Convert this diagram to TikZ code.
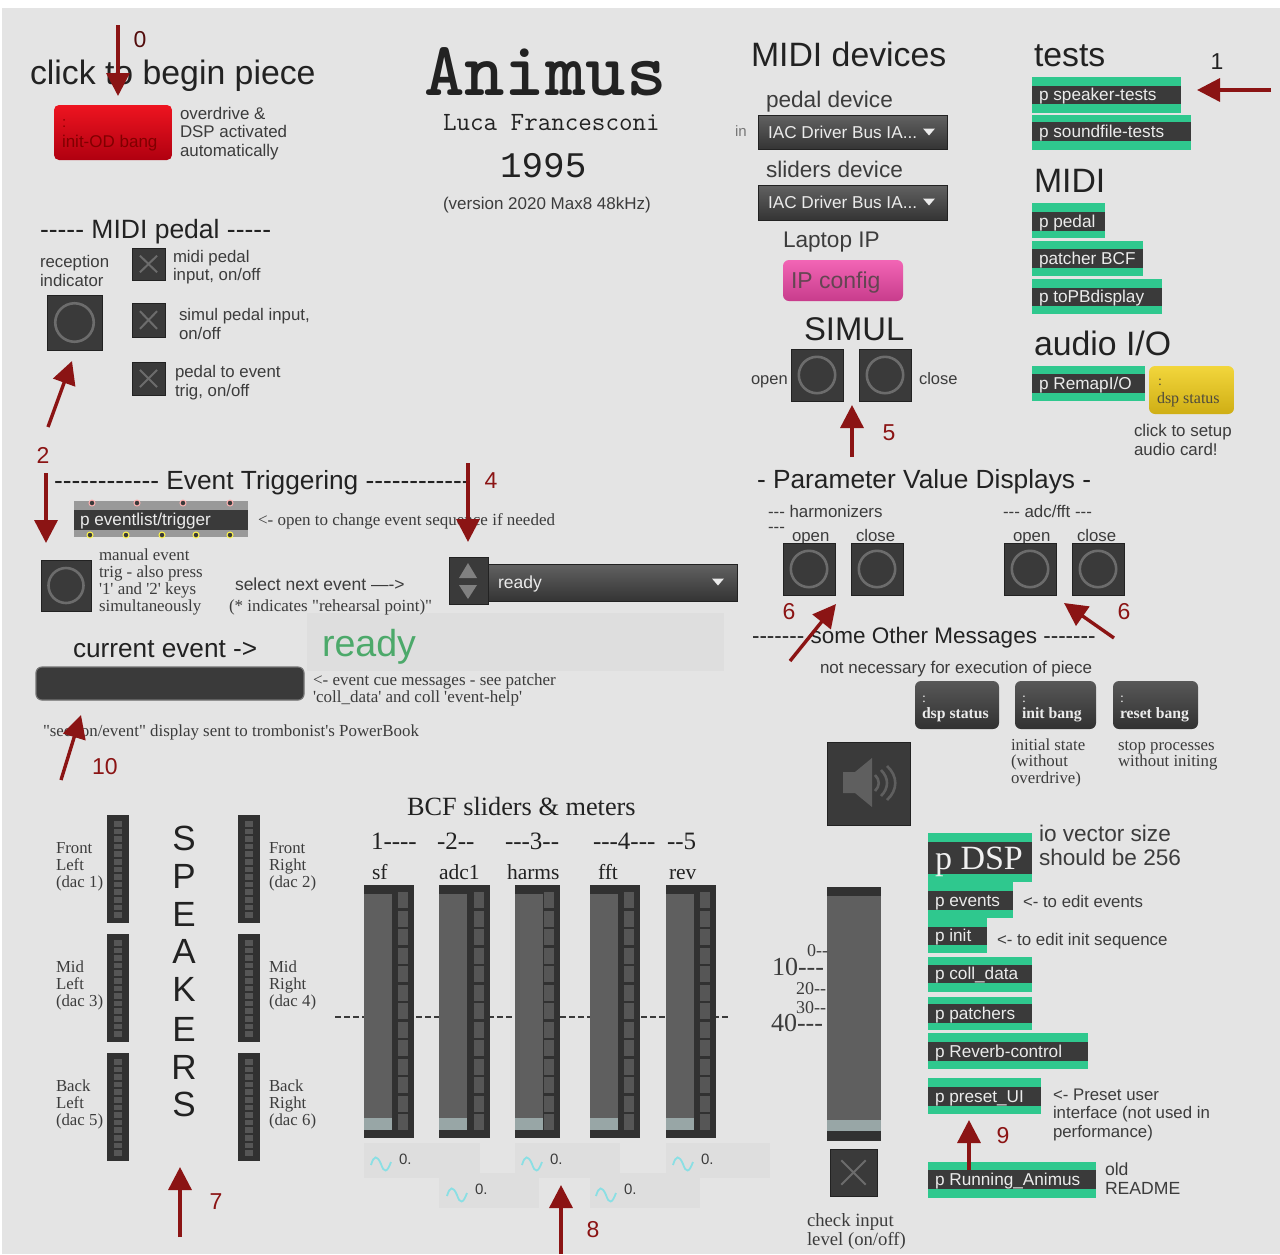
\documentclass[tikz,border=0pt]{standalone}
\usepackage{fontspec}
\usetikzlibrary{arrows.meta}
\setmainfont{Liberation Sans}
\newfontfamily\ser{Liberation Serif}
\newfontfamily\mon{Liberation Mono}
\definecolor{bg}{HTML}{E4E4E4}
\definecolor{panel}{HTML}{DEDEDE}
\definecolor{dk}{HTML}{3A3A3A}
\definecolor{edge}{HTML}{222222}
\definecolor{ring}{HTML}{6C6C6C}
\definecolor{grn}{HTML}{2FC88E}
\definecolor{red1}{HTML}{8B1414}
\definecolor{bar}{HTML}{5F5F5F}
\definecolor{knob}{HTML}{98A6A6}
\definecolor{seg}{HTML}{565656}
\definecolor{hd}{HTML}{222222}
\definecolor{lb}{HTML}{3C3C3C}
\definecolor{wave}{HTML}{8ADFE4}
\definecolor{pinka}{HTML}{F265B5}
\definecolor{pinkb}{HTML}{C83C8C}
\definecolor{yela}{HTML}{F2D63C}
\definecolor{yelb}{HTML}{CFAE14}
\definecolor{reda}{HTML}{EE1420}
\definecolor{redb}{HTML}{B00010}
\definecolor{rdygreen}{HTML}{4CA96A}
\tikzset{
  base/.style={anchor=west,inner sep=0pt,outer sep=0pt,text=lb},
  tsa/.style={base,font=\fontsize{#1}{#1}\selectfont,text height=#1*0.92pt,text depth=#1*0.2pt},
  tse/.style={base,font=\ser\fontsize{#1}{#1}\selectfont,text height=#1*0.92pt,text depth=#1*0.2pt},
  tmo/.style={base,font=\mon\fontsize{#1}{#1}\selectfont,text height=#1*0.92pt,text depth=#1*0.2pt},
  ttt/.style={base,font=\ttfamily\fontsize{#1}{#1}\selectfont,text height=#1*0.92pt,text depth=#1*0.2pt},
  ra/.style={draw=red1,line width=3.4pt,-{Triangle[length=23pt,width=23pt]}},
  num/.style={tsa=23,text=red1},
  patchtxt/.style={tsa=17.2,text=white!92!black},
  hdg/.style={text=hd}
}
\newcommand\tx[5]{\node[#4] (#1) at (#2,#3) {#5};}
\newcommand\hyrun[1]{\foreach\hi in {1,...,#1}{-{}}}
\newcommand\bangb[4]{% x0 y0 x1 y1
  \draw[fill=dk,draw=edge,line width=1pt] (#1,#2) rectangle (#3,#4);
  \pgfmathsetmacro\cx{(#1+#3)/2}\pgfmathsetmacro\cy{(#2+#4)/2}\pgfmathsetmacro\rr{(#3-#1)*0.35}
  \draw[ring,line width=2.6pt] (\cx,\cy) circle[radius=\rr pt];}
\newcommand\togg[4]{%
  \draw[fill=dk,draw=edge,line width=1pt] (#1,#2) rectangle (#3,#4);
  \pgfmathsetmacro\ax{#1+(#3-#1)*0.24}\pgfmathsetmacro\bx{#3-(#3-#1)*0.24}
  \pgfmathsetmacro\ay{#2+(#4-#2)*0.24}\pgfmathsetmacro\by{#4-(#4-#2)*0.24}
  \draw[ring,line width=2pt] (\ax,\ay)--(\bx,\by) (\ax,\by)--(\bx,\ay);}
\newcommand\subp[8]{% name x0 y0 x1 y1 b0 b1 text
  \fill[grn] (#2,#3) rectangle (#4,#5);
  \fill[dk] (#2,#6) rectangle (#4,#7);
  \pgfmathsetmacro\tyy{(#6+#7)/2-0.5}\pgfmathsetmacro\txx{#2+7}
  \node[patchtxt] (#1) at (\txx,\tyy) {#8};}
\newcommand\menu[4]{% x0 y0 x1 y1
  \shade[top color=dk!80!white,bottom color=dk!90!black,draw=edge,line width=.6pt] (#1,#2) rectangle (#3,#4);}
\newcommand\tridown[2]{\fill[white!92!black] (#1-6,#2-3.5)--(#1+6,#2-3.5)--(#1,#2+3.5)--cycle;}
\newcommand\spk[2]{%
  \pgfmathsetmacro\xa{#1+22}\pgfmathsetmacro\ya{#2+108}
  \fill[dk!85!black] (#1,#2) rectangle (\xa,\ya);
  \foreach \k in {0,...,12}{
    \pgfmathsetmacro\sa{#2+6+\k*7.6}\pgfmathsetmacro\sb{\sa+5.6}
    \pgfmathsetmacro\xs{#1+7}\pgfmathsetmacro\xe{#1+15}
    \fill[seg] (\xs,\sa) rectangle (\xe,\sb);}}
\newcommand\bcf[2]{%
  \fill[dk!85!black] (#1,885) rectangle (#2,1138);
  \pgfmathsetmacro\xb{#1+28}\pgfmathsetmacro\xm{#2-16}\pgfmathsetmacro\xn{#2-6}
  \fill[bar] (#1,894) rectangle (\xb,1118);
  \fill[knob] (#1,1118) rectangle (\xb,1130);
  \foreach \k in {0,...,12}{
    \pgfmathsetmacro\sa{892+\k*18.5}\pgfmathsetmacro\sb{\sa+16}
    \fill[seg] (\xm,\sa) rectangle (\xn,\sb);}}
\newcommand\wav[2]{\begin{scope}[shift={(#1,#2)}]
  \draw[wave,line width=1.8pt] (0,1) .. controls (3,-9) and (6,-9) .. (10,0) .. controls (13,9) and (16,9) .. (20,-2);
  \end{scope}}
\newcommand\rarrow[5]{% name x0 y0 x1 y1
  \coordinate (#1s) at (#2,#3); \coordinate (#1e) at (#4,#5);
  \draw[ra] (#1s) -- (#1e);}
\begin{document}
\begin{tikzpicture}[x=1pt,y=-1pt]
\useasboundingbox (0,0) rectangle (1280,1254);
\fill[white] (0,0) rectangle (1280,1254);
\fill[bg] (2,8) rectangle (1280,1254);
\fill[panel] (307,613) rectangle (724,671);

% ---------- top left
\tx{click}{30}{72}{tsa=33.8,hdg}{click to begin piece}
\shade[top color=reda,bottom color=redb,rounded corners=5pt] (54,105) rectangle (172,160);
\tx{odc}{62}{122}{tsa=15,text=red!55!black}{:}
\tx{odb}{62}{141}{tsa=17,text=red!50!black}{init-OD bang}
\tx{ov1}{180}{113}{tsa=16.9}{overdrive \&}
\tx{ov2}{180}{131}{tsa=16.9}{DSP activated}
\tx{ov3}{180}{150}{tsa=16.9}{automatically}

\tx{mp}{40}{229}{tsa=26.5,hdg}{\hyrun{5} MIDI pedal \hyrun{5}}
\tx{rc1}{40}{261}{tsa=16.8}{reception}
\tx{rc2}{40}{280}{tsa=16.8}{indicator}
\bangb{47}{295}{102}{350}
\togg{132}{248}{165}{280}
\togg{132}{303}{165}{337}
\togg{132}{362}{165}{395}
\tx{t1a}{173}{256}{tsa=16.8}{midi pedal}
\tx{t1b}{173}{274}{tsa=16.8}{input, on/off}
\tx{t2a}{179}{314}{tsa=16.8}{simul pedal input,}
\tx{t2b}{179}{333}{tsa=16.8}{on/off}
\tx{t3a}{175}{371}{tsa=16.8}{pedal to event}
\tx{t3b}{175}{390}{tsa=16.8}{trig, on/off}

% ---------- title
\tx{title}{424}{68}{ttt=77,text=hd,font=\ttfamily\bfseries\fontsize{77}{77}\selectfont}{Animus}
\tx{luca}{443}{121}{ttt=26.3,text=hd}{Luca Francesconi}
\tx{yr}{500}{165}{tmo=36,text=hd}{1995}
\tx{ver}{443}{203}{tsa=17}{(version 2020 Max8 48kHz)}

% ---------- MIDI devices
\tx{md}{751}{54}{tsa=33.8,hdg}{MIDI devices}
\tx{pd}{766}{99}{tsa=22.6}{pedal device}
\tx{in}{735}{131}{tsa=15,text=lb!70!white}{in}
\menu{758}{115}{947}{149}
\tx{m1}{768}{132}{tsa=17.2,text=white!92!black}{IAC Driver Bus IA...}
\tridown{929}{132}
\tx{sd}{766}{169}{tsa=22.6}{sliders device}
\menu{758}{185}{947}{220}
\tx{m2}{768}{202}{tsa=17.2,text=white!92!black}{IAC Driver Bus IA...}
\tridown{929}{202}
\tx{lip}{783}{239}{tsa=22.6}{Laptop IP}
\shade[top color=pinka,bottom color=pinkb,rounded corners=6pt] (783,260) rectangle (903,301);
\tx{ipc}{791}{280}{tsa=23,text=magenta!30!black}{IP config}
\tx{sim}{804}{329}{tsa=32.8,hdg}{SIMUL}
\bangb{791}{349}{843}{401}
\bangb{859}{349}{911}{401}
\tx{so}{751}{379}{tsa=16.5}{open}
\tx{sc}{919}{379}{tsa=16.5}{close}

% ---------- right column
\tx{tests}{1034}{54}{tsa=33.8,hdg}{tests}
\subp{pst}{1032}{77}{1181}{113}{86}{104}{p speaker-tests}
\subp{psf}{1032}{115}{1191}{150}{122}{141}{p soundfile-tests}
\tx{midi}{1034}{180}{tsa=33.8,hdg}{MIDI}
\subp{ppd}{1032}{203}{1105}{238}{212}{231}{p pedal}
\subp{pbc}{1032}{241}{1143}{276}{249}{268}{patcher BCF}
\subp{ptp}{1032}{279}{1162}{314}{288}{306}{p toPBdisplay}
\tx{aio}{1034}{343}{tsa=33.8,hdg}{audio I/O}
\subp{prm}{1032}{366}{1145}{401}{374}{393}{p RemapI/O}
\shade[top color=yela,bottom color=yelb,rounded corners=6pt] (1149,366) rectangle (1234,414);
\tx{yc}{1158}{380}{tse=14,text=yellow!20!black}{:}
\tx{yd}{1157}{398}{tse=16,text=yellow!20!black}{dsp status}
\tx{cs1}{1134}{430}{tsa=16.9}{click to setup}
\tx{cs2}{1134}{449}{tsa=16.9}{audio card!}

% ---------- event triggering
\tx{et}{54}{480}{tsa=26.3,hdg}{\hyrun{12} Event Triggering \hyrun{12}}
\fill[black!40] (74,501) rectangle (248,537);
\fill[dk] (74,510) rectangle (248,530);
\foreach \p in {92,137,183,230}{\draw[fill=dk,draw=red!30!white,line width=1pt] (\p,503) circle[radius=3pt];}
\foreach \p in {90,126,162,196,230}{\draw[fill=dk,draw=yellow!70!white,line width=1pt] (\p,535) circle[radius=3pt];}
\tx{pet}{80}{519}{tsa=17.2,text=white!92!black}{p eventlist/trigger}
\tx{opn}{258}{519}{tse=17}{<- open to change event sequence if needed}
\bangb{41}{560}{91}{611}
\tx{me1}{99}{554}{tse=16.9}{manual event}
\tx{me2}{99}{571}{tse=16.9}{trig - also press}
\tx{me3}{99}{588}{tse=16.9}{'1' and '2' keys}
\tx{me4}{99}{605}{tse=16.9}{simultaneously}
\tx{sel}{235}{584}{tsa=17.5}{select next event ---{}->}
\tx{reh}{229}{605}{tse=17}{(* indicates "rehearsal point)"}
\menu{488}{564}{737}{601}
\fill[dk,draw=edge,line width=.8pt] (449,557) rectangle (488,604);
\fill[black!50] (468,563)--(459,578)--(477,578)--cycle;
\fill[black!50] (468,599)--(459,585)--(477,585)--cycle;
\tx{rdy}{498}{582}{tsa=17.5,text=white!92!black}{ready}
\tridown{718}{582}
\tx{rdyb}{322}{643}{tsa=37.6,text=rdygreen}{ready}
\tx{ce}{73}{648}{tsa=26.2,hdg}{current event ->}
\draw[fill=dk,draw=black!55,line width=1.2pt,rounded corners=6pt] (36,667) rectangle (304,700);
\tx{cu1}{313}{679}{tse=17}{<- event cue messages - see patcher}
\tx{cu2}{313}{696}{tse=17}{'coll\_data' and coll 'event-help'}
\tx{sec}{43}{730}{tse=16.9}{"section/event" display sent to trombonist's PowerBook}

% ---------- parameter value displays
\tx{pv}{757}{479}{tsa=26.3,hdg}{- Parameter Value Displays -}
\tx{hm}{768}{511}{tsa=16.9}{\hyrun{3} harmonizers}
\tx{hm2}{768}{526}{tsa=16.9}{\hyrun{3}}
\tx{af}{1003}{511}{tsa=16.9}{\hyrun{3} adc/fft \hyrun{3}}
\tx{o1}{792}{535}{tsa=16.8}{open}
\tx{c1}{856}{535}{tsa=16.8}{close}
\tx{o2}{1013}{535}{tsa=16.8}{open}
\tx{c2}{1077}{535}{tsa=16.8}{close}
\bangb{783}{543}{835}{595}
\bangb{851}{543}{903}{595}
\bangb{1004}{543}{1056}{595}
\bangb{1072}{543}{1124}{595}
\tx{som}{752}{635}{tsa=22.5,hdg}{\hyrun{7} some Other Messages \hyrun{7}}
\tx{nn}{820}{667}{tsa=17}{not necessary for execution of piece}
\foreach \a/\b/\n/\t in {915/999/q1/dsp status,1015/1096/q2/init bang,1113/1198/q3/reset bang}{
  \shade[top color=dk!85!white,bottom color=dk!85!black,rounded corners=6pt] (\a,681) rectangle (\b,729);
  \pgfmathsetmacro\qx{\a+7}
  \node[tse=14,text=white!92!black] (\n c) at (\qx,697) {:};
  \node[tse=15.7,text=white!92!black,font=\ser\bfseries\fontsize{15.7}{15.7}\selectfont] (\n) at (\qx,713) {\t};
}
\tx{is1}{1011}{744}{tse=16.8}{initial state}
\tx{is2}{1011}{760}{tse=16.8}{(without}
\tx{is3}{1011}{777}{tse=16.8}{overdrive)}
\tx{sp1}{1118}{744}{tse=16.8}{stop processes}
\tx{sp2}{1118}{760}{tse=16.8}{without initing}
\draw[fill=dk,draw=edge,line width=1pt] (827,742) rectangle (910,825);
\fill[bar] (843,772) -- (855,772) -- (872,758) -- (872,807) -- (855,793) -- (843,793) -- cycle;
\draw[bar,line width=2.6pt] (875,775) .. controls (880,780) and (880,786) .. (875,791);
\draw[bar,line width=2.6pt] (881,770) .. controls (889,778) and (889,788) .. (881,796);
\draw[bar,line width=2.6pt] (887,766) .. controls (898,776) and (898,790) .. (887,800);

% ---------- speakers
\spk{107}{815}\spk{107}{934}\spk{107}{1053}
\spk{238}{815}\spk{238}{934}\spk{238}{1053}
\tx{fl1}{56}{847}{tse=16.8}{Front}\tx{fl2}{56}{864}{tse=16.8}{Left}\tx{fl3}{56}{881}{tse=16.8}{(dac 1)}
\tx{ml1}{56}{966}{tse=16.8}{Mid}\tx{ml2}{56}{983}{tse=16.8}{Left}\tx{ml3}{56}{1000}{tse=16.8}{(dac 3)}
\tx{bl1}{56}{1085}{tse=16.8}{Back}\tx{bl2}{56}{1102}{tse=16.8}{Left}\tx{bl3}{56}{1119}{tse=16.8}{(dac 5)}
\tx{fr1}{269}{847}{tse=16.8}{Front}\tx{fr2}{269}{864}{tse=16.8}{Right}\tx{fr3}{269}{881}{tse=16.8}{(dac 2)}
\tx{mr1}{269}{966}{tse=16.8}{Mid}\tx{mr2}{269}{983}{tse=16.8}{Right}\tx{mr3}{269}{1000}{tse=16.8}{(dac 4)}
\tx{br1}{269}{1085}{tse=16.8}{Back}\tx{br2}{269}{1102}{tse=16.8}{Right}\tx{br3}{269}{1119}{tse=16.8}{(dac 6)}
\foreach \y/\l/\n in {838/S/l1,876/P/l2,914/E/l3,951/A/l4,989/K/l5,1029/E/l6,1067/R/l7,1104/S/l8}{
  \node[tsa=35,hdg,anchor=center] (\n) at (184,\y) {\l};}

% ---------- BCF
\tx{bcf}{407}{806}{tse=26.3,text=hd}{BCF sliders \& meters}
\tx{n1}{371}{840}{tse=25,text=hd}{1\hyrun{4}}
\tx{n2}{437}{840}{tse=25,text=hd}{-{}2\hyrun{2}}
\tx{n3}{505}{840}{tse=25,text=hd}{\hyrun{3}3\hyrun{2}}
\tx{n4}{593}{840}{tse=25,text=hd}{\hyrun{3}4\hyrun{3}}
\tx{n5}{667}{840}{tse=25,text=hd}{\hyrun{2}5}
\tx{s1}{372}{872}{tse=21.5,text=hd}{sf}
\tx{s2}{439}{872}{tse=21.5,text=hd}{adc1}
\tx{s3}{507}{872}{tse=21.5,text=hd}{harms}
\tx{s4}{598}{872}{tse=21.5,text=hd}{fft}
\tx{s5}{669}{872}{tse=21.5,text=hd}{rev}
\draw[dk,line width=2pt,dash pattern=on 6pt off 3pt] (335,1017) -- (728,1017);
\bcf{364}{414}\bcf{439}{490}\bcf{515}{560}\bcf{590}{640}\bcf{666}{716}
\fill[panel] (364,1143) rectangle (480,1178);
\fill[panel] (515,1143) rectangle (620,1178);
\fill[panel] (666,1143) rectangle (770,1178);
\fill[panel] (439,1173) rectangle (539,1208);
\fill[panel] (590,1173) rectangle (700,1208);
\wav{371}{1164}\wav{522}{1164}\wav{673}{1164}\wav{447}{1195}\wav{596}{1195}
\tx{v1}{399}{1159}{tsa=15}{0.}
\tx{v2}{475}{1189}{tsa=15}{0.}
\tx{v3}{550}{1159}{tsa=15}{0.}
\tx{v4}{624}{1189}{tsa=15}{0.}
\tx{v5}{701}{1159}{tsa=15}{0.}

% ---------- input slider
\fill[dk!85!black] (827,887) rectangle (881,1141);
\fill[bar] (827,896) rectangle (881,1120);
\fill[knob] (827,1120) rectangle (881,1131);
\tx{l0}{807}{950}{tse=18}{0\hyrun{2}}
\tx{l10}{772}{966}{tse=26}{10\hyrun{3}}
\tx{l20}{796}{988}{tse=18}{20\hyrun{2}}
\tx{l30}{796}{1007}{tse=18}{30\hyrun{2}}
\tx{l40}{771}{1022}{tse=26}{40\hyrun{3}}
\togg{830}{1149}{877}{1196}
\tx{ci1}{807}{1220}{tse=18.7}{check input}
\tx{ci2}{807}{1239}{tse=18.7}{level (on/off)}

% ---------- DSP column
\fill[grn] (928,833) rectangle (1032,882);
\fill[dk] (928,842) rectangle (1032,874);
\node[tse=34,text=white!94!black] (pdsp) at (935,857) {p DSP};
\subp{pev}{928}{882}{1013}{918}{891}{910}{p events}
\subp{pin}{928}{918}{987}{953}{927}{945}{p init}
\subp{pcd}{928}{957}{1032}{992}{965}{983}{p coll\_data}
\subp{ppt}{928}{997}{1032}{1030}{1004}{1023}{p patchers}
\subp{prv}{928}{1033}{1088}{1069}{1042}{1061}{p Reverb-control}
\subp{pps}{928}{1078}{1041}{1114}{1087}{1106}{p preset\_UI}
\subp{pra}{928}{1162}{1096}{1198}{1170}{1189}{p Running\_Animus}
\tx{io1}{1039}{833}{tsa=22.6}{io vector size}
\tx{io2}{1039}{857}{tsa=22.6}{should be 256}
\tx{ed1}{1023}{901}{tsa=16.8}{<- to edit events}
\tx{ed2}{997}{939}{tsa=16.9}{<- to edit init sequence}
\tx{pr1}{1053}{1094}{tsa=16.8}{<- Preset user}
\tx{pr2}{1053}{1112}{tsa=16.8}{interface (not used in}
\tx{pr3}{1053}{1131}{tsa=16.8}{performance)}
\tx{old}{1105}{1169}{tsa=17.6}{old}
\tx{rme}{1105}{1188}{tsa=17.6}{README}

% ---------- arrows and numbers
\rarrow{a0}{118}{25}{118}{96}
\rarrow{a1}{1271}{90}{1197}{90}
\rarrow{a2}{48}{427}{72}{361}
\rarrow{a3}{46}{473}{46}{543}
\rarrow{a4}{468}{463}{468}{542}
\rarrow{a5}{852}{457}{852}{405}
\rarrow{a6}{790}{661}{836}{604}
\rarrow{a6b}{1114}{638}{1064}{603}
\rarrow{a7}{180}{1237}{180}{1167}
\rarrow{a8}{561}{1254}{561}{1185}
\rarrow{a9}{969}{1170}{969}{1120}
\rarrow{a10}{61}{780}{81}{715}
\node[num,text=red1!60!black,anchor=center] (n0) at (140,39) {0};
\node[num,text=hd,anchor=center] (nb1) at (1217,61) {1};
\node[num,anchor=center] (nb2) at (43,455) {2};
\node[num,anchor=center] (nb4) at (491,480) {4};
\node[num,anchor=center] (nb5) at (889,432) {5};
\node[num,anchor=center] (nb6) at (789,611) {6};
\node[num,anchor=center] (nb6b) at (1124,611) {6};
\node[num,anchor=center] (nb7) at (216,1201) {7};
\node[num,anchor=center] (nb8) at (593,1229) {8};
\node[num,anchor=center] (nb9) at (1003,1135) {9};
\node[num,anchor=center] (nb10) at (105,766) {10};
\end{tikzpicture}
\end{document}
